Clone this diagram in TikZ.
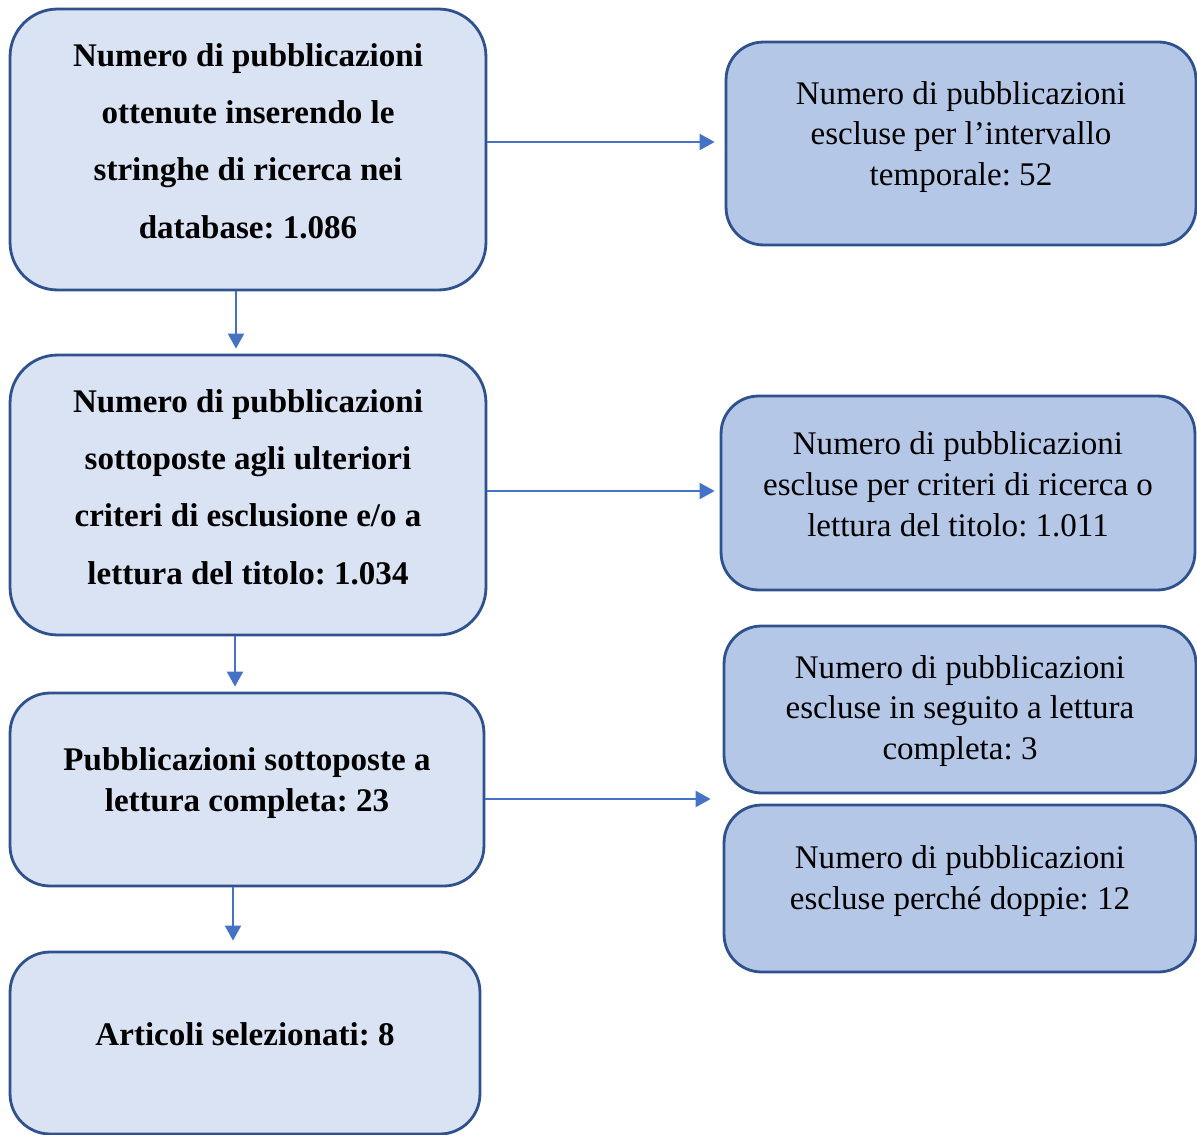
\documentclass[tikz,border=0pt]{standalone}
\usepackage{fontspec}
\setmainfont{Liberation Serif}
\usetikzlibrary{arrows.meta,calc}
\definecolor{leftfill}{HTML}{DAE3F3}
\definecolor{rightfill}{HTML}{B4C7E7}
\definecolor{boxline}{HTML}{2F528F}
\definecolor{arrowblue}{HTML}{4472C4}
\frenchspacing

\begin{document}
\begin{tikzpicture}[x=0.02cm,y=-0.02cm,
  leftbox/.style={draw=boxline,line width=1.6pt,fill=leftfill,rounded corners=0.95cm},
  rightbox/.style={draw=boxline,line width=1.6pt,fill=rightfill,rounded corners=0.75cm},
  boldtxt/.style={align=center,font=\fontsize{18.8}{32.7}\selectfont\bfseries},
  boldtxtb/.style={align=center,font=\fontsize{18.8}{23.3}\selectfont\bfseries},
  plaintxt/.style={align=center,font=\fontsize{18.8}{23.3}\selectfont},
  flow/.style={draw=arrowblue,line width=1.1pt,-{Triangle[length=0.3cm,width=0.32cm]}}]
\useasboundingbox (0,0) rectangle (1197,1135);
% left column
\node[leftbox,minimum width=9.52cm,minimum height=5.62cm] (found) at (248,149.5) {};
\node[leftbox,minimum width=9.52cm,minimum height=5.6cm] (screen) at (248,495) {};
\node[leftbox,minimum width=9.48cm,minimum height=3.86cm,rounded corners=0.8cm] (full) at (247,789.5) {};
\node[leftbox,minimum width=9.4cm,minimum height=3.64cm,rounded corners=0.8cm] (chosen) at (245,1043) {};
% right column
\node[rightbox,minimum width=9.4cm,minimum height=4.06cm] (excltime) at (961,143.5) {};
\node[rightbox,minimum width=9.48cm,minimum height=3.88cm] (exclcrit) at (958,493) {};
\node[rightbox,minimum width=9.44cm,minimum height=3.34cm] (exclfull) at (960,709.5) {};
\node[rightbox,minimum width=9.44cm,minimum height=3.34cm] (excldup) at (960,888.5) {};
% texts
\node[boldtxt] (tfound) at ([yshift=0.17cm]found) {Numero di pubblicazioni\\ottenute inserendo le\\stringhe di ricerca nei\\database: 1.086};
\node[boldtxt] (tscreen) at ([yshift=0.16cm]screen) {Numero di pubblicazioni\\sottoposte agli ulteriori\\criteri di esclusione e/o a\\lettura del titolo: 1.034};
\node[boldtxtb] (tfull) at ([yshift=0.12cm]full) {Pubblicazioni sottoposte a\\lettura completa: 23};
\node[boldtxtb] (tchosen) at ([yshift=0.18cm]chosen) {Articoli selezionati: 8};
\node[plaintxt] (texcltime) at ([yshift=0.13cm]excltime) {Numero di pubblicazioni\\escluse per l’intervallo\\temporale: 52};
\node[plaintxt] (texclcrit) at ([yshift=0.18cm]exclcrit) {Numero di pubblicazioni\\escluse per criteri di ricerca o\\lettura del titolo: 1.011};
\node[plaintxt] (texclfull) at ([yshift=-0.03cm]exclfull) {Numero di pubblicazioni\\escluse in seguito a lettura\\completa: 3};
\node[plaintxt] (texcldup) at ([yshift=0.15cm]excldup) {Numero di pubblicazioni\\escluse perché doppie: 12};
% arrows
\coordinate (gap) at ($(exclfull.south west)!0.5!(excldup.north west)$);
\draw[flow,shorten >=0.2cm] ([yshift=0.15cm]found.east) -- ([yshift=0.15cm]found.east -| excltime.west);
\draw[flow,shorten >=0.1cm] ([yshift=0.08cm]screen.east) -- ([yshift=0.08cm]screen.east -| exclcrit.west);
\draw[flow,shorten >=0.24cm] (full.east |- gap) -- (gap);
\draw[flow,shorten >=0.1cm] ([xshift=-0.24cm]found.south) -- ([xshift=-0.24cm]found.south |- screen.north);
\draw[flow,shorten >=0.1cm] ([xshift=-0.26cm]screen.south) -- ([xshift=-0.26cm]screen.south |- full.north);
\draw[flow,shorten >=0.2cm] ([xshift=-0.28cm]full.south) -- ([xshift=-0.28cm]full.south |- chosen.north);
\end{tikzpicture}
\end{document}
